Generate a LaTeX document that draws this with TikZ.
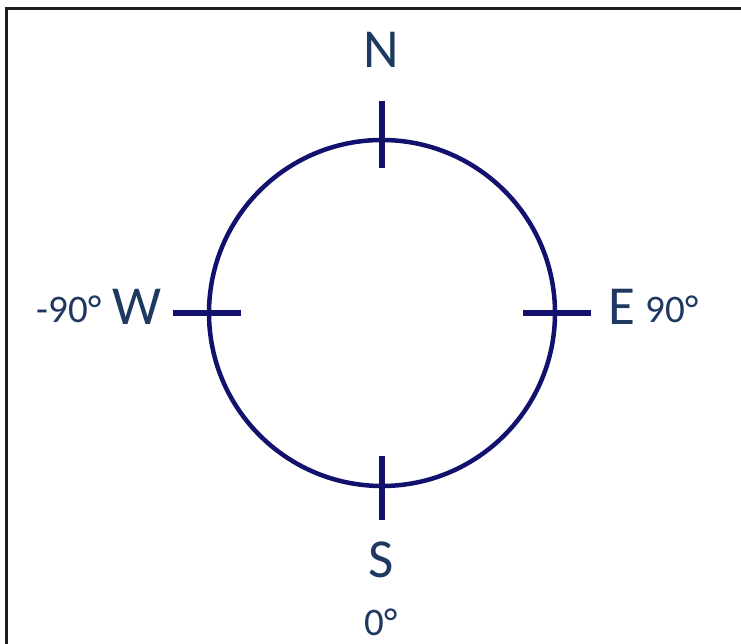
\documentclass[tikz,border=0pt]{standalone}
\usepackage{fontspec}
\setmainfont{Carlito}
\definecolor{navy}{RGB}{18,18,110}
\definecolor{txt}{RGB}{31,56,96}
\definecolor{framec}{RGB}{30,30,30}
\begin{document}
\begin{tikzpicture}[x=1pt,y=1pt,
  big/.style={text=txt,font=\fontsize{55}{55}\selectfont,inner sep=0pt,anchor=base},
  small/.style={text=txt,font=\fontsize{39}{39}\selectfont,inner sep=0pt,anchor=base},
  ring/.style={circle,draw=navy,line width=4.5pt,minimum size=346pt,inner sep=0pt},
  tick/.style={draw=navy,line width=5.5pt}]
\useasboundingbox (0,0) rectangle (741,644);
\fill[white] (0,0) rectangle (741,644);
\draw[line width=2.5pt,framec] (741,635.5) -- (6.5,635.5) -- (6.5,0);
\node[ring] (c) at (382,331) {};
\coordinate (n1) at ([yshift=37]c.north);
\coordinate (n2) at ([yshift=-30]c.north);
\coordinate (s1) at ([yshift=32]c.south);
\coordinate (s2) at ([yshift=-32]c.south);
\coordinate (w1) at ([xshift=-34]c.west);
\coordinate (w2) at ([xshift=34]c.west);
\coordinate (e1) at ([xshift=-34]c.east);
\coordinate (e2) at ([xshift=34]c.east);
\draw[tick] (n1) -- (n2);
\draw[tick] (s1) -- (s2);
\draw[tick] (w1) -- (w2);
\draw[tick] (e1) -- (e2);
\node[big] (N) at (381,576) {N};
\node[big] (S) at (381,66) {S};
\node[big] (W) at (137,319) {W};
\node[big] (E) at (622,319) {E};
\node[small] (wd) at (69,321) {-90°};
\node[small] (ed) at (672,321) {90°};
\node[small] (sd) at (381,8) {0°};
\end{tikzpicture}
\end{document}
